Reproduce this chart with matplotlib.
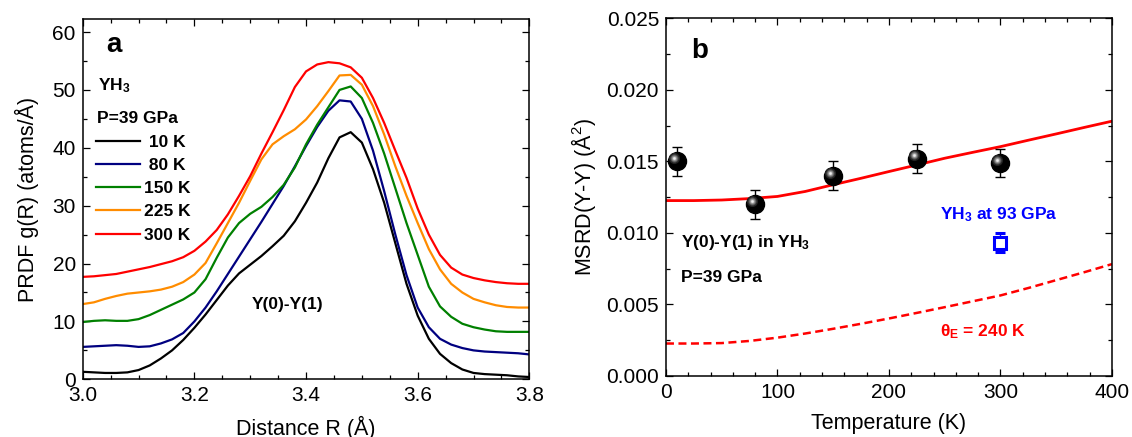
import numpy as np
import matplotlib
matplotlib.use("Agg")
import matplotlib.pyplot as plt
from matplotlib.ticker import MultipleLocator
from matplotlib.transforms import ScaledTranslation

# -----------------------------------------------
# Fonts
# -----------------------------------------------
plt.rcParams['font.family'] = ['Liberation Sans', 'DejaVu Sans']
plt.rcParams['mathtext.fontset'] = 'custom'
plt.rcParams['mathtext.rm'] = 'Liberation Sans'
plt.rcParams['mathtext.default'] = 'regular'

# -----------------------------------------------
# Panel a data: PRDF g(R) for Y(0)-Y(1)
# -----------------------------------------------
r_vals = [3.00, 3.02, 3.04, 3.06, 3.08, 3.10, 3.12, 3.14, 3.16, 3.18,
          3.20, 3.22, 3.24, 3.26, 3.28, 3.30, 3.32, 3.34, 3.36, 3.38,
          3.40, 3.42, 3.44, 3.46, 3.48, 3.50, 3.52, 3.54, 3.56, 3.58,
          3.60, 3.62, 3.64, 3.66, 3.68, 3.70, 3.72, 3.74, 3.76, 3.78, 3.80]

g_10K = [1.3, 1.2, 1.1, 1.1, 1.2, 1.6, 2.4, 3.6, 5.0, 6.8,
         8.9, 11.2, 13.7, 16.2, 18.3, 19.8, 21.3, 23.0, 24.8, 27.3,
         30.5, 34.0, 38.2, 41.8, 42.7, 40.9, 36.3, 30.5, 23.5, 16.5,
         11.0, 7.0, 4.4, 2.8, 1.7, 1.1, 0.9, 0.8, 0.7, 0.5, 0.4]
g_80K = [5.6, 5.7, 5.8, 5.9, 5.8, 5.6, 5.7, 6.2, 6.9, 8.0,
         10.0, 12.4, 15.2, 18.2, 21.2, 24.2, 27.2, 30.3, 33.4, 36.8,
         40.3, 43.6, 46.4, 48.2, 48.0, 45.0, 39.5, 32.5, 25.0, 18.0,
         12.4, 9.0, 7.0, 6.0, 5.4, 5.0, 4.8, 4.7, 4.6, 4.5, 4.3]
g_150K = [9.9, 10.1, 10.2, 10.1, 10.1, 10.4, 11.1, 12.0, 12.9, 13.8,
          15.0, 17.3, 21.0, 24.5, 27.0, 28.6, 29.8, 31.5, 33.6, 36.6,
          40.6, 44.0, 47.0, 50.0, 50.6, 48.6, 44.3, 39.0, 33.0, 27.0,
          21.5, 16.0, 12.6, 10.8, 9.6, 9.0, 8.6, 8.3, 8.2, 8.2, 8.2]
g_225K = [13.0, 13.3, 13.9, 14.4, 14.8, 15.0, 15.2, 15.5, 16.0, 16.8,
          18.1, 20.1, 23.5, 27.0, 30.5, 34.3, 38.0, 40.6, 42.0, 43.2,
          44.9, 47.2, 49.8, 52.5, 52.6, 50.9, 47.2, 42.3, 36.8, 31.7,
          27.0, 22.5, 19.0, 16.5, 15.0, 13.9, 13.3, 12.8, 12.5, 12.4, 12.4]
g_300K = [17.7, 17.8, 18.0, 18.2, 18.6, 19.0, 19.4, 19.9, 20.4, 21.1,
          22.2, 23.8, 25.8, 28.5, 31.7, 35.1, 39.0, 42.7, 46.5, 50.5,
          53.2, 54.4, 54.8, 54.6, 53.9, 52.1, 48.6, 44.3, 39.5, 34.8,
          29.5, 25.0, 21.5, 19.3, 18.1, 17.5, 17.1, 16.8, 16.6, 16.5, 16.5]

prdf_series = [g_10K, g_80K, g_150K, g_225K, g_300K]
prdf_labels = [" 10 K", " 80 K", "150 K", "225 K", "300 K"]
prdf_colors = ["black", "#000080", "#008000", "#ff8c00", "#ff0000"]

# -----------------------------------------------
# Panel b data: MSRD(Y-Y) vs temperature
# -----------------------------------------------
temps = [10, 80, 150, 225, 300]
msrd = [0.0150, 0.0120, 0.0140, 0.0152, 0.0149]
msrd_err = [0.0010, 0.0010, 0.0010, 0.0010, 0.0010]

hp_temp = [300]
hp_msrd = [0.00932]
hp_err = [0.00068]

fit_t = [0, 25, 50, 75, 100, 125, 150, 175, 200, 225, 250, 275, 300,
         325, 350, 375, 400]
fit_msrd = [0.01226, 0.01226, 0.01230, 0.01240, 0.01255, 0.01290, 0.01337,
            0.01382, 0.01429, 0.01475, 0.01522, 0.01563, 0.01603, 0.01648,
            0.01692, 0.01737, 0.01781]
einstein_msrd = [0.00227, 0.00227, 0.00230, 0.00245, 0.00268, 0.00297,
                 0.00330, 0.00365, 0.00402, 0.00441, 0.00481, 0.00522,
                 0.00563, 0.00615, 0.00670, 0.00725, 0.00782]

# -----------------------------------------------
# Figure
# -----------------------------------------------
fig = plt.figure(figsize=(11.32, 4.37), dpi=100)
ax1 = fig.add_axes([0.0731, 0.132, 0.3945, 0.8238])
ax2 = fig.add_axes([0.5883, 0.1396, 0.394, 0.8185])


def style_axes(ax):
    ax.tick_params(which='both', direction='in', top=True, right=True,
                   labelsize=15, width=0.9)
    ax.tick_params(which='major', length=5)
    ax.tick_params(which='minor', length=3)
    ax.tick_params(axis='x', pad=5)
    ax.tick_params(axis='y', pad=5)
    for s in ax.spines.values():
        s.set_linewidth(1.1)


# ---- panel a ----
for vals, lbl, col in zip(prdf_series, prdf_labels, prdf_colors):
    ax1.plot(r_vals, vals, color=col, lw=1.6, label=lbl)

ax1.set_xlim(3.0, 3.8)
ax1.set_ylim(0, 62.2)
ax1.xaxis.set_major_locator(MultipleLocator(0.2))
ax1.xaxis.set_minor_locator(MultipleLocator(0.05))
ax1.yaxis.set_major_locator(MultipleLocator(10))
ax1.yaxis.set_minor_locator(MultipleLocator(5))
ax1.xaxis.set_major_formatter(plt.FormatStrFormatter('%.1f'))
style_axes(ax1)
ax1.set_xlabel("Distance R (Å)", fontsize=15.5, labelpad=8)
ax1.set_ylabel("PRDF g(R) (atoms/Å)", fontsize=15.5, labelpad=10)

ax1.text(0.069, 0.928, "a", transform=ax1.transAxes, fontsize=20,
         fontweight='bold', ha='center', va='center')
ax1.text(0.035, 0.802, "YH$_3$", transform=ax1.transAxes, fontsize=12.5,
         fontweight='bold', ha='left', va='baseline')
ax1.text(0.033, 0.711, "P=39 GPa", transform=ax1.transAxes, fontsize=12.5,
         fontweight='bold', ha='left', va='baseline')
ax1.text(3.367, 12.95, "Y(0)-Y(1)", fontsize=12.5, fontweight='bold',
         ha='center', va='center')

ax1.legend(loc='upper left', bbox_to_anchor=(0.030, 0.679), frameon=False,
           borderpad=0, borderaxespad=0, handlelength=2.5, handletextpad=0.25,
           labelspacing=0.46, prop={'weight': 'bold', 'size': 12.5})

# ---- panel b ----
ax2.plot(fit_t, fit_msrd, color='#ff0000', lw=2.0, zorder=2)
ax2.plot(fit_t, einstein_msrd, color='#ff0000', lw=1.8, ls=(0, (3.2, 1.8)),
         zorder=2)

ax2.errorbar(temps, msrd, yerr=msrd_err, fmt='none', ecolor='black',
             elinewidth=1.0, capsize=3.5, capthick=1.0, zorder=3)
ax2.plot(temps, msrd, 'o', ms=13, color='black', mec='black', zorder=4)

# shaded highlight on the spheres
shift = ax2.transData + ScaledTranslation(-2.2 / 72, 2.2 / 72, fig.dpi_scale_trans)
for ms, c in zip([8, 6, 4.5, 3, 1.8], ['#222222', '#4d4d4d', '#808080', '#b3b3b3', '#eeeeee']):
    ax2.plot(temps, msrd, 'o', ms=ms, color=c, mec='none', transform=shift,
             zorder=5)

ax2.errorbar(hp_temp, hp_msrd, yerr=hp_err, fmt='s', ms=8, mfc='white',
             mec='#0000ff', mew=2.2, ecolor='#0000ff', elinewidth=1.0,
             capsize=3.5, capthick=1.0, zorder=4)

ax2.set_xlim(0, 400)
ax2.set_ylim(0, 0.025)
ax2.xaxis.set_major_locator(MultipleLocator(100))
ax2.xaxis.set_minor_locator(MultipleLocator(20))
ax2.yaxis.set_major_locator(MultipleLocator(0.005))
ax2.yaxis.set_minor_locator(MultipleLocator(0.0025))
ax2.yaxis.set_major_formatter(plt.FormatStrFormatter('%.3f'))
style_axes(ax2)
ax2.set_xlabel("Temperature (K)", fontsize=15.5, labelpad=8)
ax2.set_ylabel("MSRD(Y-Y) (Å$^2$)", fontsize=15.5, labelpad=6)

ax2.text(0.075, 0.909, "b", transform=ax2.transAxes, fontsize=20,
         fontweight='bold', ha='center', va='center')
ax2.text(13.5, 0.00902, "Y(0)-Y(1) in YH$_3$", fontsize=12.5,
         fontweight='bold', ha='left', va='baseline')
ax2.text(13.5, 0.00658, "P=39 GPa", fontsize=12.5, fontweight='bold',
         ha='left', va='baseline')
ax2.text(298.8, 0.01098, "YH$_3$ at 93 GPa", fontsize=12.5,
         fontweight='bold', color='#0000ff', ha='center', va='baseline')
ax2.text(245.6, 0.00277, "θ$_E$ = 240 K", fontsize=12.5, fontweight='bold',
         color='#ff0000', ha='left', va='baseline')

fig.savefig("out.png", dpi=100)
